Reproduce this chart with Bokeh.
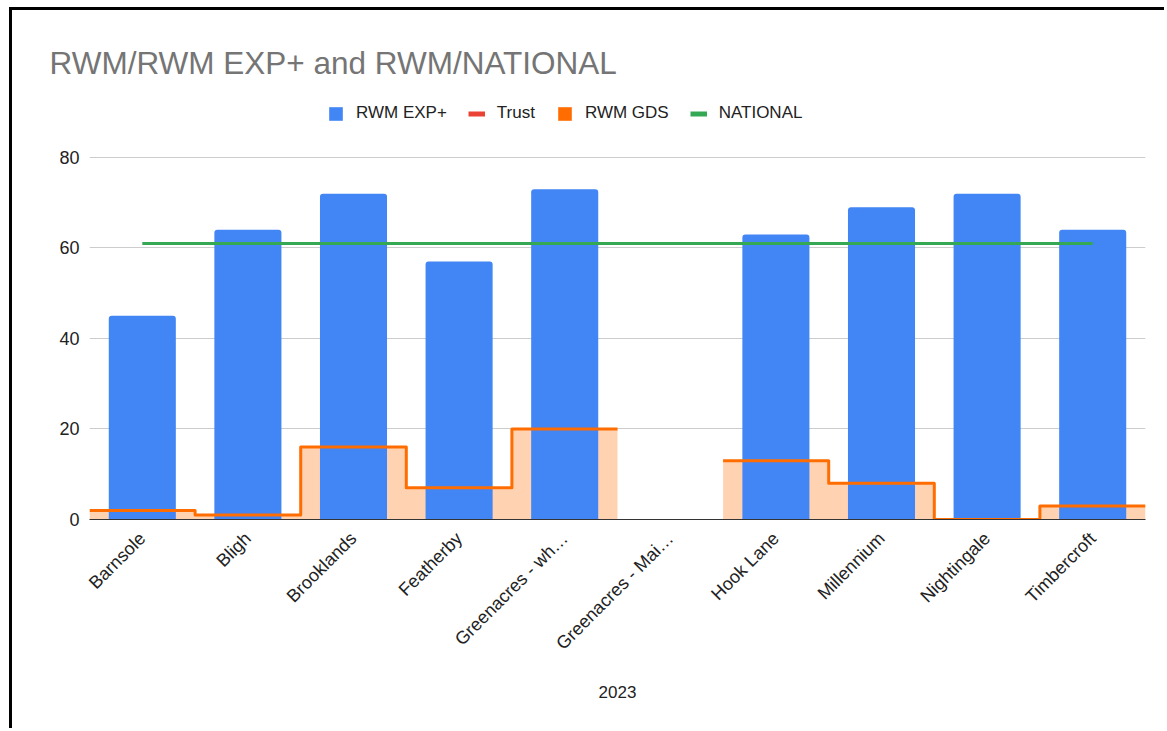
import math
from bokeh.plotting import figure
from bokeh.models import Legend, LegendItem, FixedTicker, Range1d
from bokeh.embed import file_html
from bokeh.resources import INLINE

# ---- data ----
categories = ["Barnsole", "Bligh", "Brooklands", "Featherby", "Greenacres - wh\u2026",
              "Greenacres - Mai\u2026", "Hook Lane", "Millennium", "Nightingale", "Timbercroft"]
rwm_exp = [45, 64, 72, 57, 73, None, 63, 69, 72, 64]
rwm_gds = [2, 1, 16, 7, 20, None, 13, 8, 0, 3]
national = [61, 61, 61, 61, 61, 61, 61, 61, 61, 61]
trust = [None, None, None, None, None, None, None, None, None, None]
y_ticks = [0, 20, 40, 60, 80]
title_text = "RWM/RWM EXP+ and RWM/NATIONAL"
x_title = "2023"

FONT = "Liberation Sans"
BLUE = "#4285F4"
ORANGE = "#FF6D01"
GREEN = "#34A853"
RED = "#EA4335"
NAN = float("nan")

idx = list(range(len(categories)))

# frame extends above the 80 gridline so the legend can sit inside it
p = figure(width=1155, height=721, x_range=Range1d(-0.5, len(categories) - 0.5),
           y_range=Range1d(0, 95.9),
           output_backend="svg", toolbar_location=None,
           min_border_left=77, min_border_right=22, min_border_top=75, min_border_bottom=212)
p.margin = (7, 0, 0, 9)
p.styles = {"border-left": "3px solid #000000", "border-top": "3px solid #000000"}
p.outline_line_color = None
p.background_fill_color = "white"
p.border_fill_color = "white"

# stepped area segments (break at missing values)
segments = []
cur = []
for i, v in zip(idx, rwm_gds):
    if v is None:
        if cur:
            segments.append(cur)
        cur = []
    else:
        cur.append((i, v))
if cur:
    segments.append(cur)

line_xs, line_ys = [], []
for seg in segments:
    xs, ys = [], []
    for i, v in seg:
        xs += [i - 0.5, i + 0.5]
        ys += [v, v]
    p.varea(x=xs, y1=[0] * len(xs), y2=ys, fill_color=ORANGE, fill_alpha=0.3)
    line_xs.append(xs)
    line_ys.append(ys)

bx = [i for i, v in zip(idx, rwm_exp) if v is not None]
bt = [v for v in rwm_exp if v is not None]
bars = p.vbar(x=bx, top=bt, bottom=0, width=0.635, fill_color=BLUE, line_color=None,
              border_radius=(3, 3, 0, 0))

p.multi_line(line_xs, line_ys, line_color=ORANGE, line_width=3, line_join="round")

p.line(x=idx, y=national, line_color=GREEN, line_width=3)

# Trust series has no values; its renderer serves the legend
trust_y = [NAN if v is None else v for v in trust]
r_trust = p.line(x=idx, y=trust_y, line_color=RED, line_width=5)
# legend-only renderers
r_gds = p.vbar(x=[NAN], top=[NAN], width=0.5, fill_color=ORANGE, line_color=None)
r_nat = p.line(x=[NAN, NAN], y=[NAN, NAN], line_color=GREEN, line_width=5)

legend = Legend(items=[LegendItem(label="RWM EXP+", renderers=[bars]),
                       LegendItem(label="Trust", renderers=[r_trust]),
                       LegendItem(label="RWM GDS", renderers=[r_gds]),
                       LegendItem(label="NATIONAL", renderers=[r_nat])],
                orientation="horizontal", location=(238, 396),
                glyph_width=17, glyph_height=17, label_standoff=12, spacing=21,
                padding=0, margin=0, border_line_color=None, background_fill_alpha=0,
                label_text_font=FONT, label_text_font_size="17px", label_text_color="#222222")
p.add_layout(legend, "center")

p.title.text = title_text
p.title.text_font = FONT
p.title.text_font_size = "31.5px"
p.title.text_font_style = "normal"
p.title.text_color = "#757575"
p.title.align = "left"
p.title.offset = -40
p.title.standoff = 10

# axes
p.xgrid.visible = False
p.ygrid.grid_line_color = "#cccccc"
p.ygrid.grid_line_width = 1

p.yaxis.ticker = FixedTicker(ticks=y_ticks)
p.yaxis.axis_line_color = None
p.yaxis.major_tick_line_color = None
p.yaxis.minor_tick_line_color = None
p.yaxis.major_tick_out = 0
p.yaxis.major_tick_in = 0
p.yaxis.major_label_standoff = 10
p.yaxis.major_label_text_font = FONT
p.yaxis.major_label_text_font_size = "18px"
p.yaxis.major_label_text_color = "#222222"

p.xaxis.ticker = FixedTicker(ticks=idx)
p.xaxis.major_label_overrides = {i: c for i, c in zip(idx, categories)}
p.xaxis.major_label_orientation = math.pi / 4
p.xaxis.axis_line_color = "#333333"
p.xaxis.major_tick_line_color = None
p.xaxis.minor_tick_line_color = None
p.xaxis.major_tick_out = 0
p.xaxis.major_tick_in = 0
p.xaxis.major_label_standoff = 16
p.xaxis.major_label_text_font = FONT
p.xaxis.major_label_text_font_size = "18px"
p.xaxis.major_label_text_color = "#222222"
p.xaxis.axis_label = x_title
p.xaxis.axis_label_standoff = 22
p.xaxis.axis_label_text_font = FONT
p.xaxis.axis_label_text_font_size = "17px"
p.xaxis.axis_label_text_font_style = "normal"
p.xaxis.axis_label_text_color = "#222222"

open("out.html", "w").write(file_html(p, INLINE))
